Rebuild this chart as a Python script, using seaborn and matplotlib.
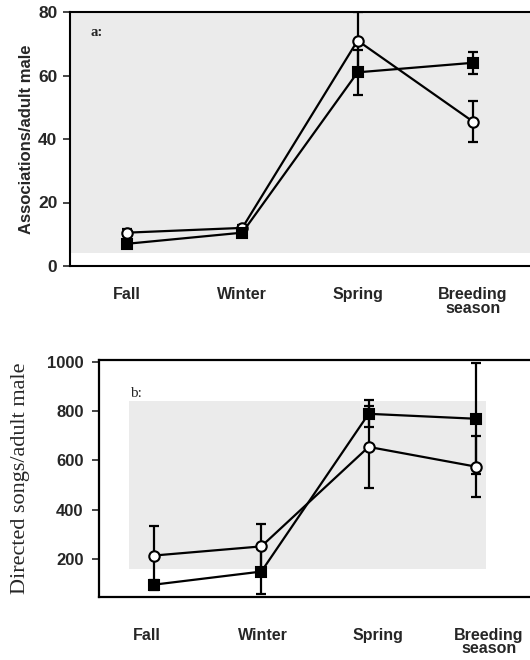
import matplotlib
matplotlib.use("Agg")
import matplotlib.pyplot as plt
import seaborn as sns
import pandas as pd
from matplotlib.patches import Rectangle

# ---- data ----
seasons = ["Fall", "Winter", "Spring", "Breeding\nseason"]
season_pos = [0, 1, 2, 3]

assoc_open = [10.5, 12.0, 71.0, 45.5]
assoc_open_err = [1.0, 1.0, 9.0, 6.5]
assoc_filled = [7.0, 10.5, 61.0, 64.0]
assoc_filled_err = [1.0, 1.0, 7.0, 3.5]

songs_open = [215, 252, 655, 575]
songs_open_err = [120, 90, 167, 124]
songs_filled = [97, 150, 789, 769]
songs_filled_err = [20, 92, 55, 225]

assoc_yticks = [0, 20, 40, 60, 80]
songs_yticks = [200, 400, 600, 800, 1000]

sns.set_style("white")
plt.rcParams["font.family"] = ["Liberation Sans", "DejaVu Sans"]

fig = plt.figure(figsize=(5.3, 6.6), dpi=100)
W, H = 530.0, 660.0


def ax_at(left, top, right, bottom):
    return fig.add_axes([left / W, 1 - bottom / H, (right - left) / W, (bottom - top) / H])


def draw_series(ax, x, y, err, filled):
    df = pd.DataFrame({"x": x, "y": y})
    ax.errorbar(x, y, yerr=err, fmt="none", ecolor="black", elinewidth=1.6,
                capsize=3.5, capthick=1.6, zorder=3)
    sns.lineplot(data=df, x="x", y="y", ax=ax, color="black", linewidth=1.6,
                 marker="s" if filled else "o", markersize=7 if filled else 7.5,
                 markerfacecolor="black" if filled else "white",
                 markeredgecolor="black", markeredgewidth=1.5, zorder=4)


# ---- panel a ----
axa = ax_at(70, 12, 530, 266)
axa.set_xlim(-0.494, 3.495)
axa.set_ylim(0, 80)
axa.set_facecolor("white")
axa.add_patch(Rectangle((0, 4), 1, 76, transform=axa.get_yaxis_transform(),
                        facecolor="#ebebeb", edgecolor="none", zorder=0))
draw_series(axa, season_pos, assoc_open, assoc_open_err, False)
draw_series(axa, season_pos, assoc_filled, assoc_filled_err, True)
for s in ["top", "bottom", "left"]:
    axa.spines[s].set_visible(True)
    axa.spines[s].set_color("black")
    axa.spines[s].set_linewidth(1.5)
axa.spines["right"].set_visible(False)
axa.set_yticks(assoc_yticks)
axa.set_yticklabels([str(v) for v in assoc_yticks], fontsize=12.5, fontweight="bold")
axa.tick_params(axis="y", length=5, width=1.2, direction="out", pad=4, left=True)
axa.set_xticks(season_pos)
axa.set_xticklabels(seasons, fontsize=11.5, fontweight="bold", linespacing=0.9)
axa.tick_params(axis="x", length=0, pad=15)
axa.set_xlabel("")
axa.set_ylabel("Associations/adult male", fontsize=12, fontweight="bold", labelpad=3)
axa.text(0.045, 0.92, "a:", transform=axa.transAxes, fontsize=10.5,
         fontweight="bold", family=["Liberation Serif"], va="center")

# ---- panel b ----
axb = ax_at(99, 360, 530, 597)
axb.set_xlim(-0.513, 3.504)
axb.set_ylim(47, 1007)
axb.set_facecolor("white")
axb.add_patch(Rectangle((-0.233, 160), 3.327, 679, facecolor="#ebebeb",
                        edgecolor="none", zorder=0))
draw_series(axb, season_pos, songs_open, songs_open_err, False)
draw_series(axb, season_pos, songs_filled, songs_filled_err, True)
for s in ["top", "bottom", "left"]:
    axb.spines[s].set_visible(True)
    axb.spines[s].set_color("black")
    axb.spines[s].set_linewidth(1.6)
axb.spines["right"].set_visible(False)
axb.set_yticks(songs_yticks)
axb.set_yticklabels([str(v) for v in songs_yticks], fontsize=12, fontweight="bold")
axb.tick_params(axis="y", length=5, width=1.2, direction="out", pad=6, left=True)
axb.set_xticks([-0.065, 1.016, 2.088, 3.12])
axb.set_xticklabels(seasons, fontsize=11.5, fontweight="bold", linespacing=0.9)
axb.tick_params(axis="x", length=0, pad=22)
axb.set_xlabel("")
axb.set_ylabel("Directed songs/adult male", fontsize=16,
               family=["Liberation Serif"], labelpad=12)
axb.text(-0.22, 872, "b:", fontsize=11, family=["Liberation Serif"], va="center")

fig.savefig("out.png", dpi=100)
